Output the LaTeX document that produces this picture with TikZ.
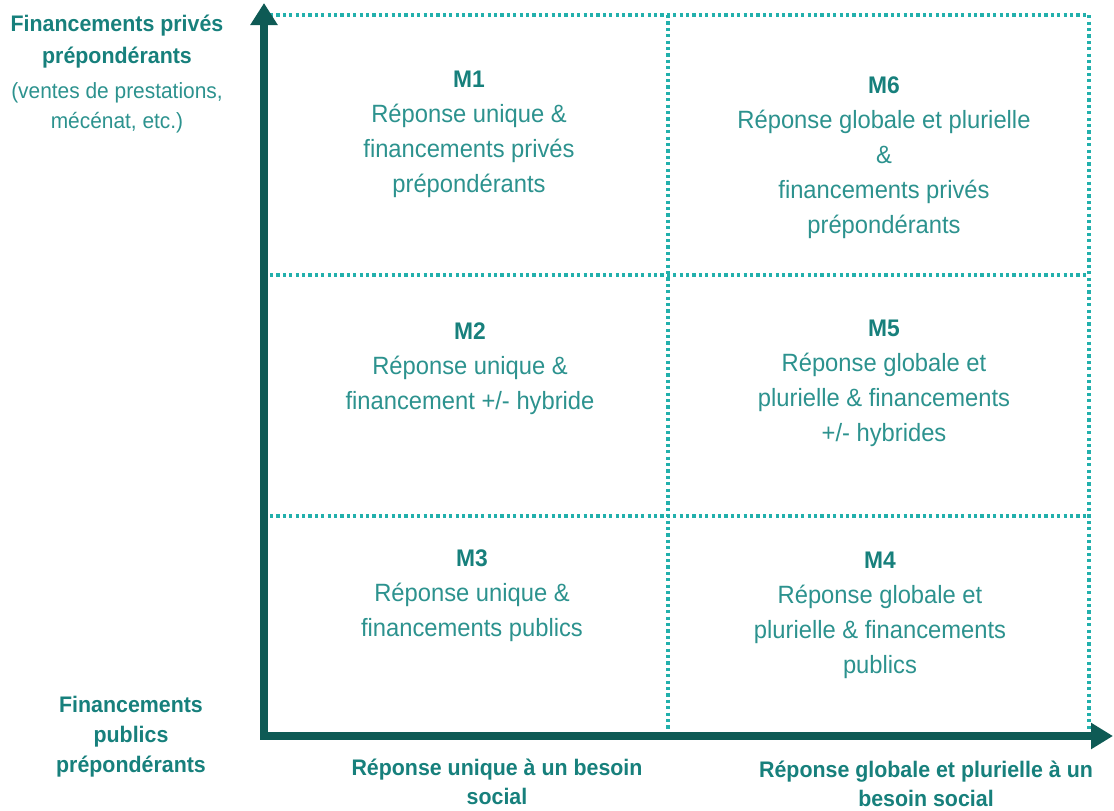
\documentclass[tikz,border=0pt]{standalone}
\usepackage{fontspec}
\setmainfont{Liberation Sans}[FakeStretch=0.95]
\usetikzlibrary{arrows.meta}
\definecolor{axiscol}{HTML}{0E5A55}
\definecolor{dotcol}{HTML}{22B0AC}
\definecolor{boldcol}{HTML}{17807C}
\definecolor{regcol}{HTML}{2C928E}
\newcommand{\mlab}[1]{\textcolor{boldcol}{\fontsize{24}{35}\selectfont\bfseries #1}}
\begin{document}
\begin{tikzpicture}[x=1pt,y=-1pt,
  axis/.style={draw=axiscol, line width=8pt,
    {Triangle[length=22pt,width=26pt]}-{Triangle[length=22pt,width=25pt]}},
  grid/.style={draw=dotcol, line width=3.2pt, dash pattern=on 3.2pt off 3.2pt},
  cell/.style={align=center, anchor=base, text=regcol, inner sep=0pt,
    font=\fontsize{25}{35}\selectfont},
  blab/.style={align=center, anchor=base, text=boldcol, inner sep=0pt,
    font=\fontsize{22.5}{30}\selectfont\bfseries},
  rlab/.style={align=center, anchor=base, text=regcol, inner sep=0pt,
    font=\fontsize{22}{30}\selectfont}]
\useasboundingbox (0,0) rectangle (1114,811);

% grid coordinates
\coordinate (g1) at (270,15);
\coordinate (g2) at (1089,15);
\coordinate (g3) at (1089,733);
\coordinate (m1) at (668,15);
\coordinate (m2) at (668,733);
\coordinate (h1a) at (270,275);
\coordinate (h1b) at (1089,275);
\coordinate (h2a) at (270,516);
\coordinate (h2b) at (1089,516);

\draw[grid] (g1) -- (g2) -- (g3);
\draw[grid] (m1) -- (m2);
\draw[grid] (h1a) -- (h1b);
\draw[grid] (h2a) -- (h2b);

% axes
\coordinate (ytip) at (264,3);
\coordinate (orig) at (264,736);
\coordinate (xtip) at (1113,736);
\draw[axis] (ytip) -- (orig) -- (xtip);

% axis labels (anchor = baseline of last line)
\node[blab, font=\fontsize{22.5}{32}\selectfont\bfseries] (tl1) at (117,63) {Financements privés\\prépondérants};
\node[rlab] (tl2) at (117,128) {(ventes de prestations,\\mécénat, etc.)};
\node[blab] (bl) at (131,772) {Financements\\publics\\prépondérants};
\node[blab, font=\fontsize{22.5}{29}\selectfont\bfseries] (bx1) at (497,804) {Réponse unique à un besoin\\social};
\node[blab, font=\fontsize{22.5}{29}\selectfont\bfseries] (bx2) at (926,806) {Réponse globale et plurielle à un\\besoin social};

% cells
\node[cell] (M1) at (469,192) {\mlab{M1}\\Réponse unique \&\\financements privés\\prépondérants};
\node[cell] (M6) at (884,233) {\mlab{M6}\\Réponse globale et plurielle\\\&\\financements privés\\prépondérants};
\node[cell] (M2) at (470,409) {\mlab{M2}\\Réponse unique \&\\financement +/- hybride};
\node[cell] (M5) at (884,441) {\mlab{M5}\\Réponse globale et\\plurielle \& financements\\+/- hybrides};
\node[cell] (M3) at (472,636) {\mlab{M3}\\Réponse unique \&\\financements publics};
\node[cell] (M4) at (880,673) {\mlab{M4}\\Réponse globale et\\plurielle \& financements\\publics};
\end{tikzpicture}
\end{document}
